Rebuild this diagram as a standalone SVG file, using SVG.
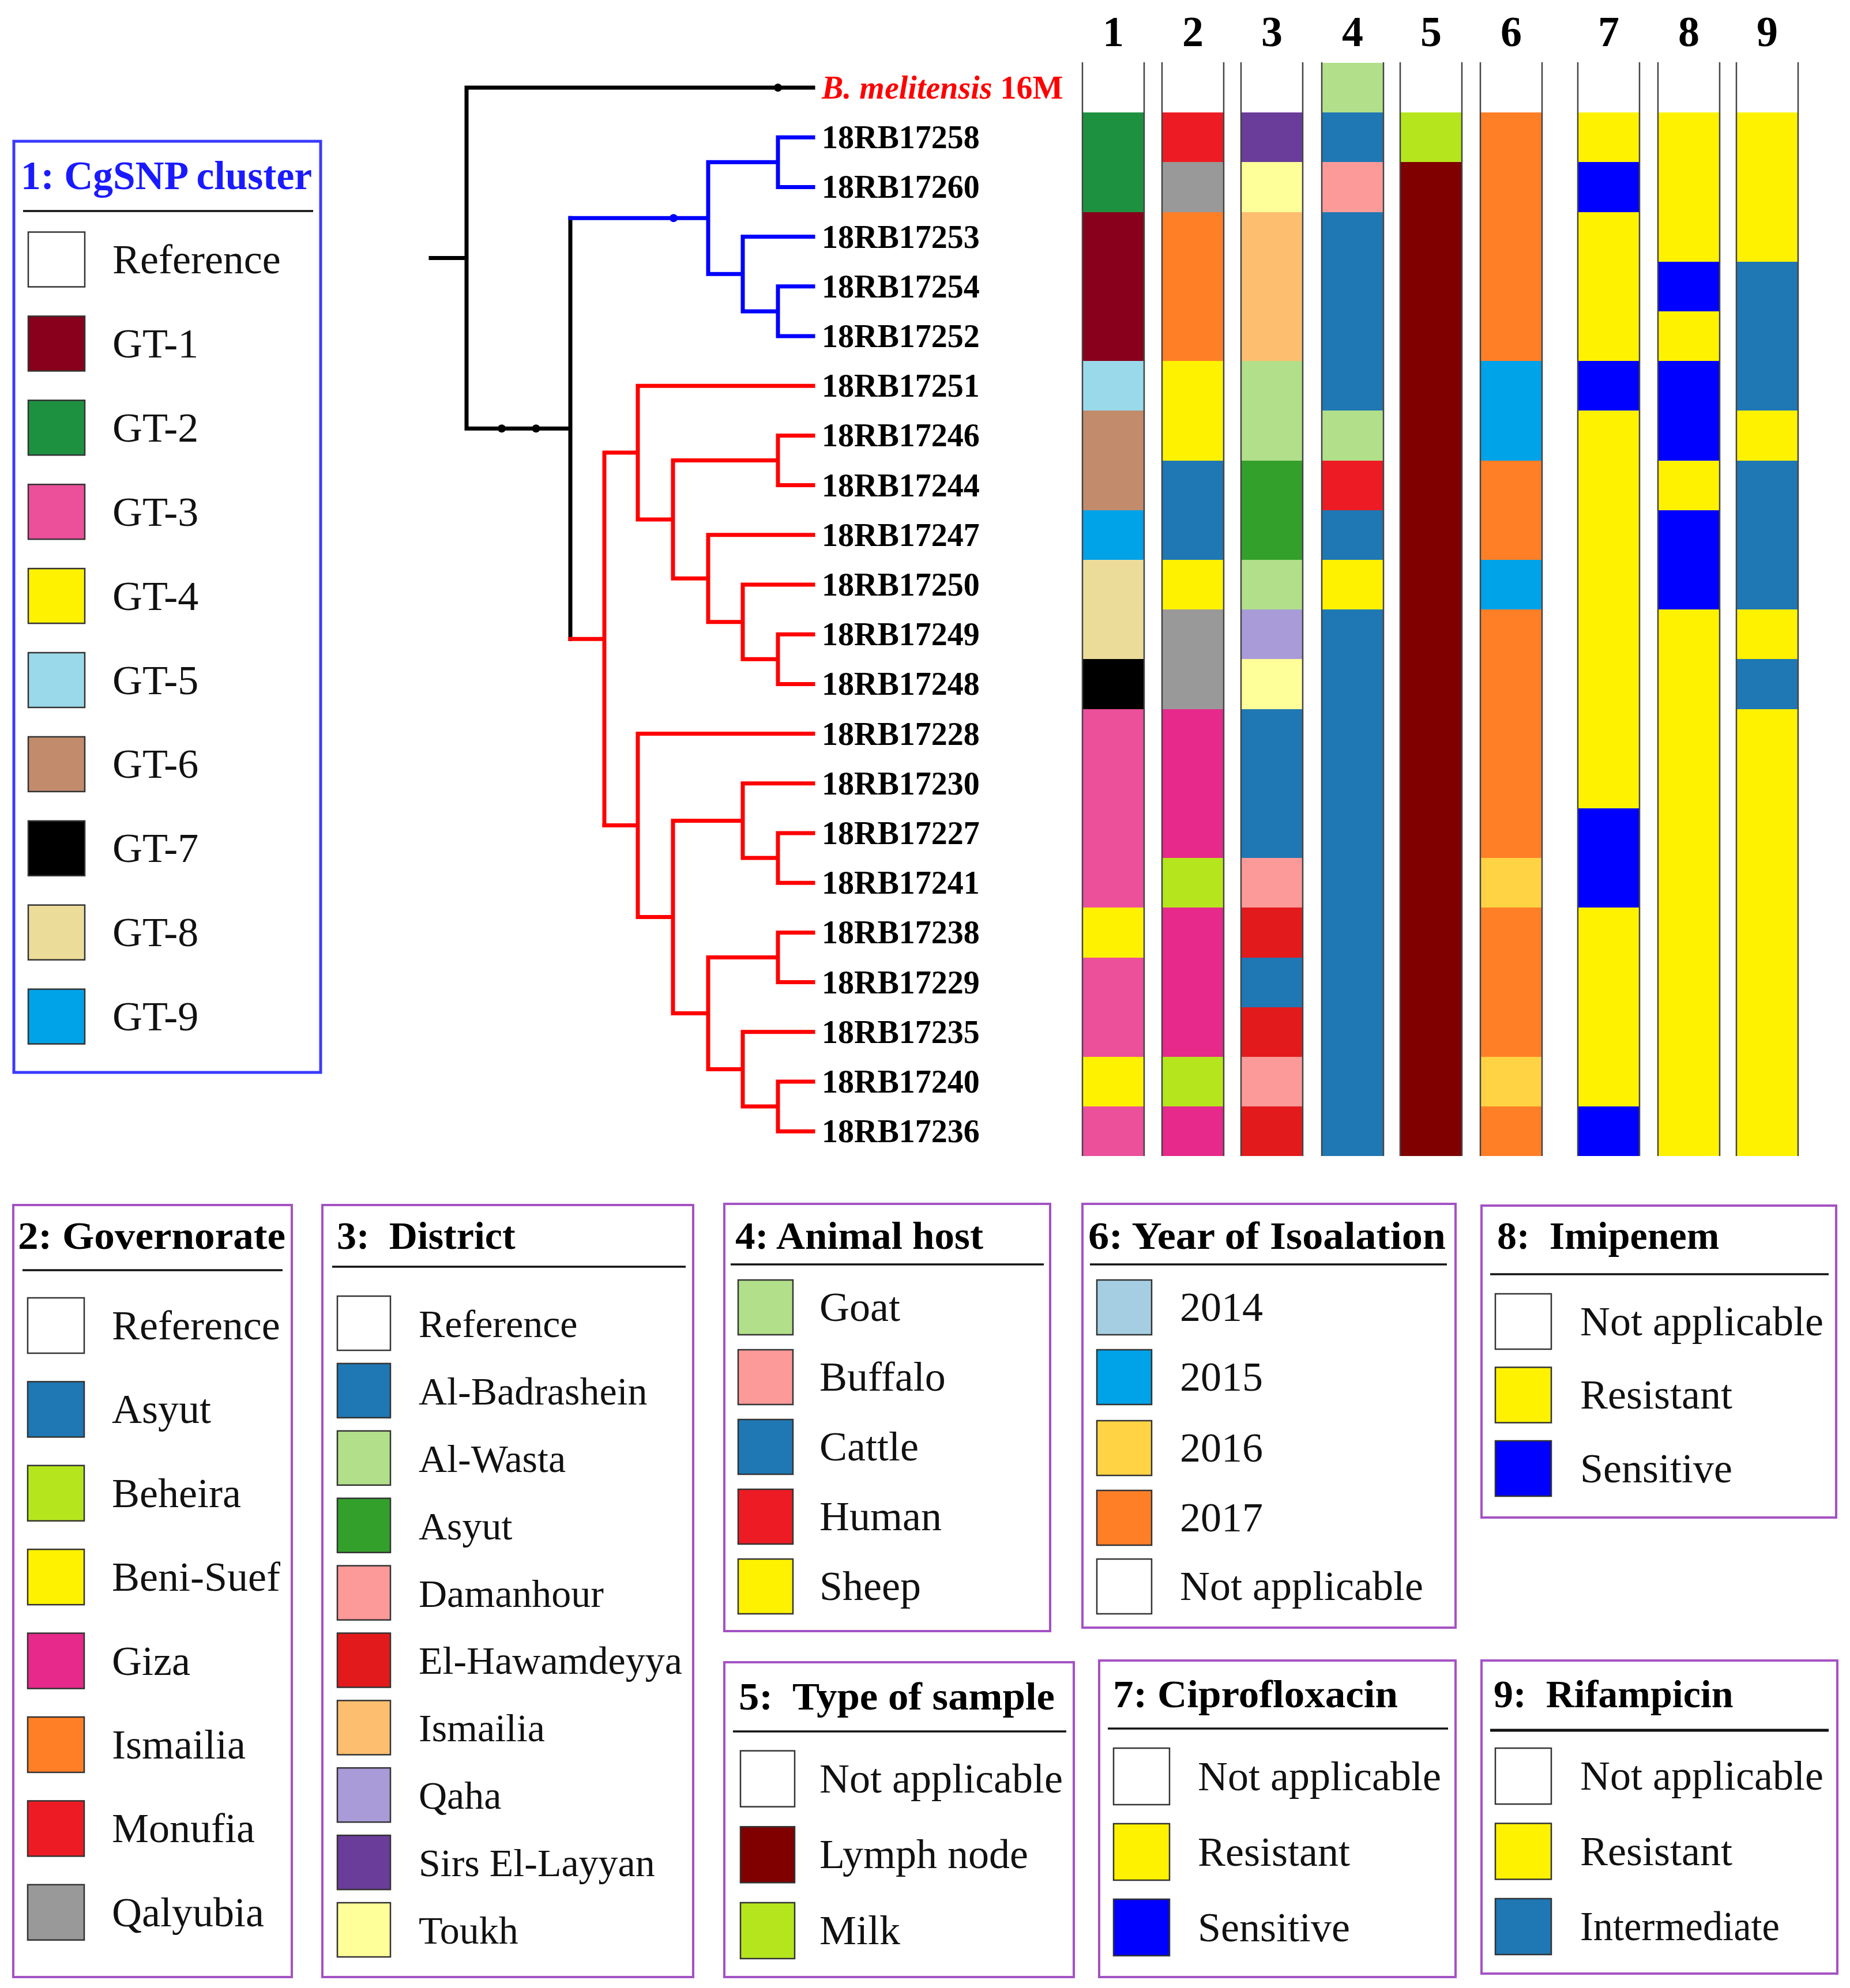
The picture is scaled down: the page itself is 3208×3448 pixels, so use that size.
<svg xmlns="http://www.w3.org/2000/svg" width="3208" height="3448" viewBox="0 0 3208 3448">
<style>
.lbl{font-family:"Liberation Serif","Times New Roman",serif;font-weight:bold;font-size:56px;fill:#000}
.hdr{font-family:"Liberation Serif","Times New Roman",serif;font-weight:bold;font-size:74px;fill:#000;text-anchor:middle}
.lg{font-family:"Liberation Serif","Times New Roman",serif;font-size:72px;fill:#111}
.lgs{font-family:"Liberation Serif","Times New Roman",serif;font-size:68px;fill:#111}
.ttl{font-family:"Liberation Serif","Times New Roman",serif;font-weight:bold;font-size:68px;fill:#000}
.box{fill:none;stroke:#a452c4;stroke-width:4}
.ul{stroke:#111;stroke-width:3.5}
.sw{stroke:#333;stroke-width:2.5}
.cl{stroke:#444;stroke-width:2.5}
.blk{fill:none;stroke:#000;stroke-width:7;stroke-linecap:square}
.blu{fill:none;stroke:#0000ff;stroke-width:7;stroke-linecap:square}
.red{fill:none;stroke:#ff0000;stroke-width:7;stroke-linecap:square}
.cells rect{shape-rendering:crispEdges}
</style>
<rect width="3208" height="3448" fill="#fff"/>

<g id="connectors">
<path class="blk" d="M747 447.6H809M809 152V743.3M809 152H1410M809 743.3H989M989 378.3V1108.3"/>
<path class="blu" d="M989 378.3H1228M1228 281.3V475.3M1228 281.3H1349M1349 238.2V324.4M1349 238.2H1410M1349 324.4H1410M1228 475.3H1288M1288 410.6V539.9M1288 410.6H1410M1288 539.9H1349M1349 496.8V583M1349 496.8H1410M1349 583H1410"/>
<path class="red" d="M989 1108.3H1048M1048 785V1431.5M1048 785H1106M1106 669.2V900.9M1106 669.2H1410M1106 900.9H1167M1167 798.5V1003.2M1167 798.5H1349M1349 755.4V841.6M1349 755.4H1410M1349 841.6H1410M1167 1003.2H1228M1228 927.8V1078.7M1228 927.8H1410M1228 1078.7H1288M1288 1014V1143.3M1288 1014H1410M1288 1143.3H1349M1349 1100.2V1186.4M1349 1100.2H1410M1349 1186.4H1410"/>
<path class="red" d="M1048 1431.5H1106M1106 1272.6V1590.5M1106 1272.6H1410M1106 1590.5H1167M1167 1423.5V1757.5M1167 1423.5H1288M1288 1358.8V1488.1M1288 1358.8H1410M1288 1488.1H1349M1349 1445V1531.2M1349 1445H1410M1349 1531.2H1410M1167 1757.5H1228M1228 1660.5V1854.5M1228 1660.5H1349M1349 1617.4V1703.6M1349 1617.4H1410M1349 1703.6H1410M1228 1854.5H1288M1288 1789.8V1919.1M1288 1789.8H1410M1288 1919.1H1349M1349 1876V1962.2M1349 1876H1410M1349 1962.2H1410"/>
<circle cx="1349" cy="152" r="7" fill="#000"/>
<circle cx="870" cy="743.3" r="7" fill="#000"/>
<circle cx="929.5" cy="743.3" r="7" fill="#000"/>
<circle cx="1168" cy="378.3" r="7" fill="#0000ff"/>
</g>

<g id="leaf-labels">
<text class="lbl" x="1425" y="171" style="fill:#ff0000"><tspan font-style="italic">B. melitensis</tspan> 16M</text>
<text class="lbl" x="1425" y="257">18RB17258</text>
<text class="lbl" x="1425" y="343">18RB17260</text>
<text class="lbl" x="1425" y="430">18RB17253</text>
<text class="lbl" x="1425" y="516">18RB17254</text>
<text class="lbl" x="1425" y="602">18RB17252</text>
<text class="lbl" x="1425" y="688">18RB17251</text>
<text class="lbl" x="1425" y="774">18RB17246</text>
<text class="lbl" x="1425" y="861">18RB17244</text>
<text class="lbl" x="1425" y="947">18RB17247</text>
<text class="lbl" x="1425" y="1033">18RB17250</text>
<text class="lbl" x="1425" y="1119">18RB17249</text>
<text class="lbl" x="1425" y="1205">18RB17248</text>
<text class="lbl" x="1425" y="1292">18RB17228</text>
<text class="lbl" x="1425" y="1378">18RB17230</text>
<text class="lbl" x="1425" y="1464">18RB17227</text>
<text class="lbl" x="1425" y="1550">18RB17241</text>
<text class="lbl" x="1425" y="1636">18RB17238</text>
<text class="lbl" x="1425" y="1723">18RB17229</text>
<text class="lbl" x="1425" y="1809">18RB17235</text>
<text class="lbl" x="1425" y="1895">18RB17240</text>
<text class="lbl" x="1425" y="1981">18RB17236</text>
</g>

<g id="column-headers">
<text class="hdr" x="1930.5" y="80">1</text>
<text class="hdr" x="2068.5" y="80">2</text>
<text class="hdr" x="2205.5" y="80">3</text>
<text class="hdr" x="2345.5" y="80">4</text>
<text class="hdr" x="2481.5" y="80">5</text>
<text class="hdr" x="2620.5" y="80">6</text>
<text class="hdr" x="2789.5" y="80">7</text>
<text class="hdr" x="2928.5" y="80">8</text>
<text class="hdr" x="3064.5" y="80">9</text>
</g>

<g id="col1" class="cells">
<rect x="1877" y="195.1" width="107" height="172.4" fill="#1e9141"/>
<rect x="1877" y="367.5" width="107" height="258.6" fill="#88001b"/>
<rect x="1877" y="626.1" width="107" height="86.2" fill="#99d9ea"/>
<rect x="1877" y="712.3" width="107" height="172.4" fill="#c28b6c"/>
<rect x="1877" y="884.7" width="107" height="86.2" fill="#00a2e8"/>
<rect x="1877" y="970.9" width="107" height="172.4" fill="#ecdc9a"/>
<rect x="1877" y="1143.3" width="107" height="86.2" fill="#000"/>
<rect x="1877" y="1229.5" width="107" height="344.8" fill="#ec509b"/>
<rect x="1877" y="1574.3" width="107" height="86.2" fill="#fff200"/>
<rect x="1877" y="1660.5" width="107" height="172.4" fill="#ec509b"/>
<rect x="1877" y="1832.9" width="107" height="86.2" fill="#fff200"/>
<rect x="1877" y="1919.1" width="107" height="86.2" fill="#ec509b"/>
</g>
<g id="col2" class="cells">
<rect x="2015" y="195.1" width="107" height="86.2" fill="#ed1c24"/>
<rect x="2015" y="281.3" width="107" height="86.2" fill="#999999"/>
<rect x="2015" y="367.5" width="107" height="258.6" fill="#ff7f27"/>
<rect x="2015" y="626.1" width="107" height="172.4" fill="#fff200"/>
<rect x="2015" y="798.5" width="107" height="172.4" fill="#1f77b4"/>
<rect x="2015" y="970.9" width="107" height="86.2" fill="#fff200"/>
<rect x="2015" y="1057.1" width="107" height="172.4" fill="#999999"/>
<rect x="2015" y="1229.5" width="107" height="258.6" fill="#e6298b"/>
<rect x="2015" y="1488.1" width="107" height="86.2" fill="#b5e61d"/>
<rect x="2015" y="1574.3" width="107" height="258.6" fill="#e6298b"/>
<rect x="2015" y="1832.9" width="107" height="86.2" fill="#b5e61d"/>
<rect x="2015" y="1919.1" width="107" height="86.2" fill="#e6298b"/>
</g>
<g id="col3" class="cells">
<rect x="2152" y="195.1" width="107" height="86.2" fill="#6a3d9a"/>
<rect x="2152" y="281.3" width="107" height="86.2" fill="#ffff99"/>
<rect x="2152" y="367.5" width="107" height="258.6" fill="#fdbf6f"/>
<rect x="2152" y="626.1" width="107" height="172.4" fill="#b2df8a"/>
<rect x="2152" y="798.5" width="107" height="172.4" fill="#33a02c"/>
<rect x="2152" y="970.9" width="107" height="86.2" fill="#b2df8a"/>
<rect x="2152" y="1057.1" width="107" height="86.2" fill="#a99bd8"/>
<rect x="2152" y="1143.3" width="107" height="86.2" fill="#ffff99"/>
<rect x="2152" y="1229.5" width="107" height="258.6" fill="#1f78b4"/>
<rect x="2152" y="1488.1" width="107" height="86.2" fill="#fb9a99"/>
<rect x="2152" y="1574.3" width="107" height="86.2" fill="#e31a1c"/>
<rect x="2152" y="1660.5" width="107" height="86.2" fill="#1f78b4"/>
<rect x="2152" y="1746.7" width="107" height="86.2" fill="#e31a1c"/>
<rect x="2152" y="1832.9" width="107" height="86.2" fill="#fb9a99"/>
<rect x="2152" y="1919.1" width="107" height="86.2" fill="#e31a1c"/>
</g>
<g id="col4" class="cells">
<rect x="2292" y="108.9" width="107" height="86.2" fill="#b2df8a"/>
<rect x="2292" y="195.1" width="107" height="86.2" fill="#1f78b4"/>
<rect x="2292" y="281.3" width="107" height="86.2" fill="#fb9a99"/>
<rect x="2292" y="367.5" width="107" height="344.8" fill="#1f78b4"/>
<rect x="2292" y="712.3" width="107" height="86.2" fill="#b2df8a"/>
<rect x="2292" y="798.5" width="107" height="86.2" fill="#ed1c24"/>
<rect x="2292" y="884.7" width="107" height="86.2" fill="#1f78b4"/>
<rect x="2292" y="970.9" width="107" height="86.2" fill="#fff200"/>
<rect x="2292" y="1057.1" width="107" height="948.2" fill="#1f78b4"/>
</g>
<g id="col5" class="cells">
<rect x="2428" y="195.1" width="107" height="86.2" fill="#b5e61d"/>
<rect x="2428" y="281.3" width="107" height="1724" fill="#800000"/>
</g>
<g id="col6" class="cells">
<rect x="2567" y="195.1" width="107" height="431" fill="#ff7f27"/>
<rect x="2567" y="626.1" width="107" height="172.4" fill="#00a2e8"/>
<rect x="2567" y="798.5" width="107" height="172.4" fill="#ff7f27"/>
<rect x="2567" y="970.9" width="107" height="86.2" fill="#00a2e8"/>
<rect x="2567" y="1057.1" width="107" height="431" fill="#ff7f27"/>
<rect x="2567" y="1488.1" width="107" height="86.2" fill="#ffd343"/>
<rect x="2567" y="1574.3" width="107" height="258.6" fill="#ff7f27"/>
<rect x="2567" y="1832.9" width="107" height="86.2" fill="#ffd343"/>
<rect x="2567" y="1919.1" width="107" height="86.2" fill="#ff7f27"/>
</g>
<g id="col7" class="cells">
<rect x="2736" y="195.1" width="107" height="86.2" fill="#fff200"/>
<rect x="2736" y="281.3" width="107" height="86.2" fill="#0000ff"/>
<rect x="2736" y="367.5" width="107" height="258.6" fill="#fff200"/>
<rect x="2736" y="626.1" width="107" height="86.2" fill="#0000ff"/>
<rect x="2736" y="712.3" width="107" height="689.6" fill="#fff200"/>
<rect x="2736" y="1401.9" width="107" height="172.4" fill="#0000ff"/>
<rect x="2736" y="1574.3" width="107" height="344.8" fill="#fff200"/>
<rect x="2736" y="1919.1" width="107" height="86.2" fill="#0000ff"/>
</g>
<g id="col8" class="cells">
<rect x="2875" y="195.1" width="107" height="258.6" fill="#fff200"/>
<rect x="2875" y="453.7" width="107" height="86.2" fill="#0000ff"/>
<rect x="2875" y="539.9" width="107" height="86.2" fill="#fff200"/>
<rect x="2875" y="626.1" width="107" height="172.4" fill="#0000ff"/>
<rect x="2875" y="798.5" width="107" height="86.2" fill="#fff200"/>
<rect x="2875" y="884.7" width="107" height="172.4" fill="#0000ff"/>
<rect x="2875" y="1057.1" width="107" height="948.2" fill="#fff200"/>
</g>
<g id="col9" class="cells">
<rect x="3011" y="195.1" width="107" height="258.6" fill="#fff200"/>
<rect x="3011" y="453.7" width="107" height="258.6" fill="#1f77b4"/>
<rect x="3011" y="712.3" width="107" height="86.2" fill="#fff200"/>
<rect x="3011" y="798.5" width="107" height="258.6" fill="#1f77b4"/>
<rect x="3011" y="1057.1" width="107" height="86.2" fill="#fff200"/>
<rect x="3011" y="1143.3" width="107" height="86.2" fill="#1f77b4"/>
<rect x="3011" y="1229.5" width="107" height="775.8" fill="#fff200"/>
</g>
<g id="column-borders">
<path class="cl" d="M1877 108V2005M1984 108V2005M2015 108V2005M2122 108V2005M2152 108V2005M2259 108V2005M2292 108V2005M2399 108V2005M2428 108V2005M2535 108V2005M2567 108V2005M2674 108V2005M2736 108V2005M2843 108V2005M2875 108V2005M2982 108V2005M3011 108V2005M3118 108V2005"/>
</g>

<g id="legend-1">
<rect x="24" y="245" width="532" height="1615" fill="none" stroke="#3a3aff" stroke-width="5"/>
<text class="ttl" x="36" y="328" style="fill:#1a1aff;font-size:69px" textLength="505" lengthAdjust="spacingAndGlyphs">1: CgSNP cluster</text>
<line class="ul" x1="40" y1="366" x2="543" y2="366"/>
<rect class="sw" x="49" y="402.5" width="98" height="95" fill="#fff"/>
<rect class="sw" x="49" y="548.4" width="98" height="95" fill="#88001b"/>
<rect class="sw" x="49" y="694.3" width="98" height="95" fill="#1e9141"/>
<rect class="sw" x="49" y="840.2" width="98" height="95" fill="#ec509b"/>
<rect class="sw" x="49" y="986.1" width="98" height="95" fill="#fff200"/>
<rect class="sw" x="49" y="1132" width="98" height="95" fill="#99d9ea"/>
<rect class="sw" x="49" y="1277.9" width="98" height="95" fill="#c28b6c"/>
<rect class="sw" x="49" y="1423.8" width="98" height="95" fill="#000"/>
<rect class="sw" x="49" y="1569.7" width="98" height="95" fill="#ecdc9a"/>
<rect class="sw" x="49" y="1715.6" width="98" height="95" fill="#00a2e8"/>
<text class="lg" x="195" y="474">Reference</text>
<text class="lg" x="195" y="620">GT-1</text>
<text class="lg" x="195" y="766">GT-2</text>
<text class="lg" x="195" y="912">GT-3</text>
<text class="lg" x="195" y="1058">GT-4</text>
<text class="lg" x="195" y="1204">GT-5</text>
<text class="lg" x="195" y="1349">GT-6</text>
<text class="lg" x="195" y="1495">GT-7</text>
<text class="lg" x="195" y="1641">GT-8</text>
<text class="lg" x="195" y="1787">GT-9</text>
</g>

<g id="legend-2">
<rect class="box" x="23" y="2090" width="483" height="1339"/>
<text class="ttl" x="31" y="2166" textLength="464" lengthAdjust="spacingAndGlyphs">2: Governorate</text>
<line class="ul" x1="39" y1="2203" x2="490" y2="2203"/>
<rect class="sw" x="48" y="2251" width="98" height="96" fill="#fff"/>
<rect class="sw" x="48" y="2396.4" width="98" height="96" fill="#1f77b4"/>
<rect class="sw" x="48" y="2541.8" width="98" height="96" fill="#b5e61d"/>
<rect class="sw" x="48" y="2687.2" width="98" height="96" fill="#fff200"/>
<rect class="sw" x="48" y="2832.6" width="98" height="96" fill="#e6298b"/>
<rect class="sw" x="48" y="2978" width="98" height="96" fill="#ff7f27"/>
<rect class="sw" x="48" y="3123.4" width="98" height="96" fill="#ed1c24"/>
<rect class="sw" x="48" y="3268.8" width="98" height="96" fill="#999999"/>
<text class="lg" x="194" y="2323">Reference</text>
<text class="lg" x="194" y="2468">Asyut</text>
<text class="lg" x="194" y="2614">Beheira</text>
<text class="lg" x="194" y="2759">Beni-Suef</text>
<text class="lg" x="194" y="2905">Giza</text>
<text class="lg" x="194" y="3050">Ismailia</text>
<text class="lg" x="194" y="3195">Monufia</text>
<text class="lg" x="194" y="3341">Qalyubia</text>
</g>

<g id="legend-3">
<rect class="box" x="559" y="2090" width="643" height="1339"/>
<text class="ttl" x="584" y="2166" xml:space="preserve">3:  District</text>
<line class="ul" x1="576" y1="2197" x2="1189" y2="2197"/>
<rect class="sw" x="585" y="2248" width="92" height="94" fill="#fff"/>
<rect class="sw" x="585" y="2364.9" width="92" height="94" fill="#1f78b4"/>
<rect class="sw" x="585" y="2481.8" width="92" height="94" fill="#b2df8a"/>
<rect class="sw" x="585" y="2598.7" width="92" height="94" fill="#33a02c"/>
<rect class="sw" x="585" y="2715.6" width="92" height="94" fill="#fb9a99"/>
<rect class="sw" x="585" y="2832.5" width="92" height="94" fill="#e31a1c"/>
<rect class="sw" x="585" y="2949.4" width="92" height="94" fill="#fdbf6f"/>
<rect class="sw" x="585" y="3066.3" width="92" height="94" fill="#a99bd8"/>
<rect class="sw" x="585" y="3183.2" width="92" height="94" fill="#6a3d9a"/>
<rect class="sw" x="585" y="3300.1" width="92" height="94" fill="#ffff99"/>
<text class="lgs" x="726" y="2319">Reference</text>
<text class="lgs" x="726" y="2436">Al-Badrashein</text>
<text class="lgs" x="726" y="2553">Al-Wasta</text>
<text class="lgs" x="726" y="2670">Asyut</text>
<text class="lgs" x="726" y="2787">Damanhour</text>
<text class="lgs" x="726" y="2903">El-Hawamdeyya</text>
<text class="lgs" x="726" y="3020">Ismailia</text>
<text class="lgs" x="726" y="3137">Qaha</text>
<text class="lgs" x="726" y="3254">Sirs El-Layyan</text>
<text class="lgs" x="726" y="3371">Toukh</text>
</g>

<g id="legend-4">
<rect class="box" x="1256" y="2088" width="565" height="741"/>
<text class="ttl" x="1275" y="2166" textLength="430" lengthAdjust="spacingAndGlyphs">4: Animal host</text>
<line class="ul" x1="1267" y1="2193" x2="1810" y2="2193"/>
<rect class="sw" x="1280" y="2220" width="95" height="95" fill="#b2df8a"/>
<rect class="sw" x="1280" y="2341" width="95" height="95" fill="#fb9a99"/>
<rect class="sw" x="1280" y="2462" width="95" height="95" fill="#1f78b4"/>
<rect class="sw" x="1280" y="2583" width="95" height="95" fill="#ed1c24"/>
<rect class="sw" x="1280" y="2704" width="95" height="95" fill="#fff200"/>
<text class="lg" x="1421" y="2291">Goat</text>
<text class="lg" x="1421" y="2412">Buffalo</text>
<text class="lg" x="1421" y="2533">Cattle</text>
<text class="lg" x="1421" y="2654">Human</text>
<text class="lg" x="1421" y="2775">Sheep</text>
</g>

<g id="legend-6">
<rect class="box" x="1877" y="2088" width="647" height="735"/>
<text class="ttl" x="1887" y="2166" textLength="620" lengthAdjust="spacingAndGlyphs">6: Year of Isoalation</text>
<line class="ul" x1="1890" y1="2193" x2="2509" y2="2193"/>
<rect class="sw" x="1902" y="2220" width="95" height="95" fill="#a6cee3"/>
<rect class="sw" x="1902" y="2341" width="95" height="95" fill="#00a2e8"/>
<rect class="sw" x="1902" y="2464" width="95" height="95" fill="#ffd343"/>
<rect class="sw" x="1902" y="2585" width="95" height="95" fill="#ff7f27"/>
<rect class="sw" x="1902" y="2704" width="95" height="95" fill="#fff"/>
<text class="lg" x="2046" y="2291">2014</text>
<text class="lg" x="2046" y="2412">2015</text>
<text class="lg" x="2046" y="2535">2016</text>
<text class="lg" x="2046" y="2656">2017</text>
<text class="lg" x="2046" y="2775">Not applicable</text>
</g>

<g id="legend-8">
<rect class="box" x="2569" y="2091" width="615" height="541"/>
<text class="ttl" x="2596" y="2166" xml:space="preserve">8:  Imipenem</text>
<line class="ul" x1="2584" y1="2210" x2="3171" y2="2210"/>
<rect class="sw" x="2593" y="2244" width="97" height="96" fill="#fff"/>
<rect class="sw" x="2593" y="2371.5" width="97" height="96" fill="#fff200"/>
<rect class="sw" x="2593" y="2499" width="97" height="96" fill="#0000ff"/>
<text class="lg" x="2740" y="2316">Not applicable</text>
<text class="lg" x="2740" y="2443">Resistant</text>
<text class="lg" x="2740" y="2571">Sensitive</text>
</g>

<g id="legend-5">
<rect class="box" x="1256" y="2883" width="606" height="546"/>
<text class="ttl" x="1281" y="2965" xml:space="preserve" textLength="548" lengthAdjust="spacingAndGlyphs">5:  Type of sample</text>
<line class="ul" x1="1271" y1="3003" x2="1849" y2="3003"/>
<rect class="sw" x="1284" y="3036.6" width="94" height="97" fill="#fff"/>
<rect class="sw" x="1284" y="3168.3" width="94" height="97" fill="#800000"/>
<rect class="sw" x="1284" y="3300" width="94" height="97" fill="#b5e61d"/>
<text class="lg" x="1421" y="3109">Not applicable</text>
<text class="lg" x="1421" y="3240">Lymph node</text>
<text class="lg" x="1421" y="3372">Milk</text>
</g>

<g id="legend-7">
<rect class="box" x="1906" y="2880" width="618" height="549"/>
<text class="ttl" x="1930" y="2961" textLength="494" lengthAdjust="spacingAndGlyphs">7: Ciprofloxacin</text>
<line class="ul" x1="1921" y1="2998" x2="2511" y2="2998"/>
<rect class="sw" x="1931" y="3032" width="97" height="98" fill="#fff"/>
<rect class="sw" x="1931" y="3163" width="97" height="98" fill="#fff200"/>
<rect class="sw" x="1931" y="3294" width="97" height="98" fill="#0000ff"/>
<text class="lg" x="2077" y="3105">Not applicable</text>
<text class="lg" x="2077" y="3236">Resistant</text>
<text class="lg" x="2077" y="3367">Sensitive</text>
</g>

<g id="legend-9">
<rect class="box" x="2569" y="2880" width="617" height="543"/>
<text class="ttl" x="2590" y="2961" xml:space="preserve">9:  Rifampicin</text>
<line class="ul" x1="2584" y1="3001" x2="3171" y2="3001" style="stroke-width:5"/>
<rect class="sw" x="2593" y="3032" width="97" height="97" fill="#fff"/>
<rect class="sw" x="2593" y="3162.5" width="97" height="97" fill="#fff200"/>
<rect class="sw" x="2593" y="3293" width="97" height="97" fill="#1f77b4"/>
<text class="lg" x="2740" y="3104">Not applicable</text>
<text class="lg" x="2740" y="3235">Resistant</text>
<text class="lg" x="2740" y="3365" textLength="346" lengthAdjust="spacingAndGlyphs">Intermediate</text>
</g>
</svg>
